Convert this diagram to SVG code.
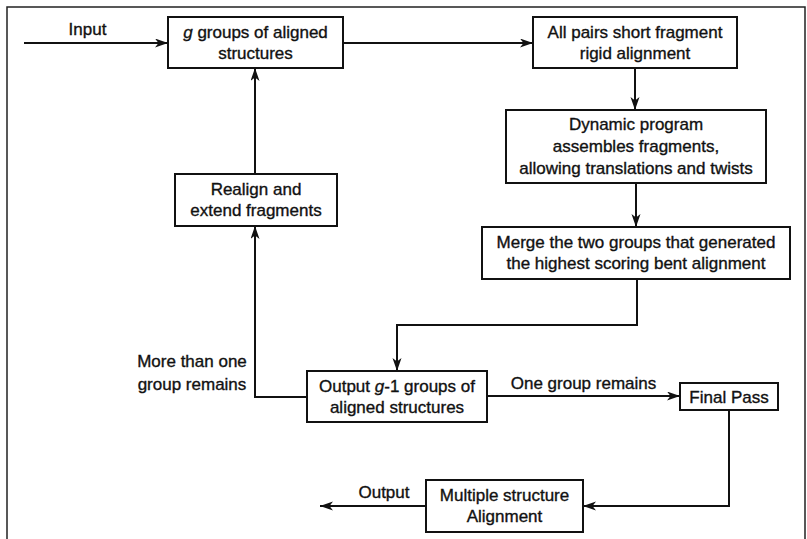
<svg xmlns="http://www.w3.org/2000/svg" width="807" height="539" viewBox="0 0 807 539">
<defs>
<marker id="ah" markerUnits="userSpaceOnUse" markerWidth="14" markerHeight="10" refX="13" refY="4.5" orient="auto">
<path d="M0,0 L13,4.5 L0,9 L3.5,4.5 z" fill="#111"/>
</marker>
<style>
.box{fill:#fff;stroke:#111;stroke-width:2}
.t{font-family:"Liberation Sans",Arial,sans-serif;font-size:17px;fill:#111;stroke:#111;stroke-width:0.35;text-anchor:middle}
.c{fill:none;stroke:#111;stroke-width:2}
.frame{fill:none;stroke:#222;stroke-width:1.5}
</style>
</defs>
<rect width="807" height="539" fill="#fff"/>
<path class="frame" d="M7,545 V7 H805 V545"/>

<g id="connectors">
<path class="c" d="M24,43 H168" marker-end="url(#ah)"/>
<path class="c" d="M343,43 H533" marker-end="url(#ah)"/>
<path class="c" d="M635,68 V110" marker-end="url(#ah)"/>
<path class="c" d="M636,183 V227" marker-end="url(#ah)"/>
<path class="c" d="M637,279 V325 H397 V371" marker-end="url(#ah)"/>
<path class="c" d="M307,397 H255 V226" marker-end="url(#ah)"/>
<path class="c" d="M255,174 V68" marker-end="url(#ah)"/>
<path class="c" d="M487,396 H680" marker-end="url(#ah)"/>
<path class="c" d="M729,410 V506 H583" marker-end="url(#ah)"/>
<path class="c" d="M426,506 H320" marker-end="url(#ah)"/>
<text class="t" x="87.5" y="35">Input</text>
<text class="t" x="192" y="367">More than one</text>
<text class="t" x="192" y="390">group remains</text>
<text class="t" x="583.5" y="389">One group remains</text>
<text class="t" x="384" y="498">Output</text>
</g>

<g id="n1">
<rect class="box" x="168" y="17" width="175" height="51"/>
<text class="t" x="255.5" y="38"><tspan font-style="italic">g</tspan> groups of aligned</text>
<text class="t" x="255.5" y="59">structures</text>
</g>
<g id="n2">
<rect class="box" x="533" y="17" width="204" height="51"/>
<text class="t" x="635" y="38">All pairs short fragment</text>
<text class="t" x="635" y="59">rigid alignment</text>
</g>
<g id="n3">
<rect class="box" x="506" y="110" width="260" height="73"/>
<text class="t" x="636" y="130">Dynamic program</text>
<text class="t" x="636" y="152">assembles fragments,</text>
<text class="t" x="636" y="174">allowing translations and twists</text>
</g>
<g id="n4">
<rect class="box" x="482" y="227" width="308" height="52"/>
<text class="t" x="636" y="248">Merge the two groups that generated</text>
<text class="t" x="636" y="269">the highest scoring bent alignment</text>
</g>
<g id="n5">
<rect class="box" x="307" y="371" width="180" height="51"/>
<text class="t" x="397" y="392">Output <tspan font-style="italic">g</tspan>-1 groups of</text>
<text class="t" x="397" y="413">aligned structures</text>
</g>
<g id="n6">
<rect class="box" x="175" y="174" width="162" height="52"/>
<text class="t" x="256" y="195">Realign and</text>
<text class="t" x="256" y="216">extend fragments</text>
</g>
<g id="n7">
<rect class="box" x="680" y="383" width="98" height="27"/>
<text class="t" x="729" y="403">Final Pass</text>
</g>
<g id="n8">
<rect class="box" x="426" y="480" width="157" height="52"/>
<text class="t" x="504.5" y="501">Multiple structure</text>
<text class="t" x="504.5" y="522">Alignment</text>
</g>
</svg>
